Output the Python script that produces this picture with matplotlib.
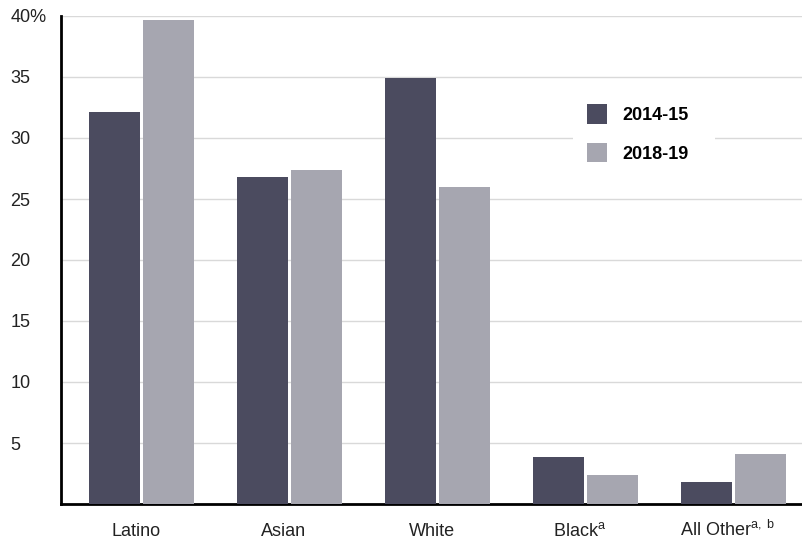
import matplotlib
matplotlib.use("Agg")
import matplotlib.pyplot as plt
from matplotlib.patches import Rectangle
import numpy as np

plt.rcParams['font.family'] = ['Liberation Sans', 'DejaVu Sans']

categories = ["Latino", "Asian", "White", "Black$^\\mathregular{a}$", "All Other$^\\mathregular{a,\\;b}$"]
series_names = ["2014-15", "2018-19"]
values_1415 = [32.1, 26.8, 34.9, 3.85, 1.8]
values_1819 = [39.7, 27.4, 26.0, 2.4, 4.1]
ytick_vals = [5, 10, 15, 20, 25, 30, 35, 40]
ytick_labels = ["5", "10", "15", "20", "25", "30", "35", "40%"]

dark = "#4b4b5f"
light = "#a6a6b0"

fig = plt.figure(figsize=(8.03, 5.42), dpi=100)
ax = fig.add_axes([61/803, 1-504/542, 742/803, (504-16)/542])

x = np.arange(len(categories))
w = 51/148
gap = 3/148
ax.bar(x - (w+gap)/2, values_1415, width=w, color=dark, label=series_names[0], zorder=3)
ax.bar(x + (w+gap)/2, values_1819, width=w, color=light, label=series_names[1], zorder=3)

ax.set_ylim(0, 40)
ax.set_xlim(-80.5/148, -80.5/148 + 742/148)
ax.set_yticks(ytick_vals)
ax.set_yticklabels(ytick_labels, fontsize=13, color="#222222", ha="left")
ax.set_xticks(x - 0.04)
ax.set_xticklabels(categories, fontsize=13, color="#222222", va="baseline")
ax.tick_params(axis='both', length=0)
ax.tick_params(axis='y', pad=36.5)
ax.tick_params(axis='x', pad=23)
ax.yaxis.grid(True, color="#d9d9d9", linewidth=1, zorder=0)
ax.set_axisbelow(True)
for s in ["top", "right"]:
    ax.spines[s].set_visible(False)
ax.spines["left"].set_linewidth(2)
ax.spines["bottom"].set_linewidth(2)

# white background behind legend (interrupts gridlines)
ax.add_patch(Rectangle((573/803, 1-180/542), 142/803, 90/542, transform=fig.transFigure,
                       facecolor="white", edgecolor="none", zorder=4, clip_on=False))

leg = ax.legend(loc="upper left", bbox_to_anchor=(573/803, 1-90/542), bbox_transform=fig.transFigure,
                frameon=False, prop={'weight': 'bold', 'size': 13}, handlelength=1.1, handleheight=1.25,
                labelspacing=1.05, handletextpad=0.85, borderpad=0.8, borderaxespad=0)
leg.set_zorder(5)

fig.savefig("out.png", dpi=100)
